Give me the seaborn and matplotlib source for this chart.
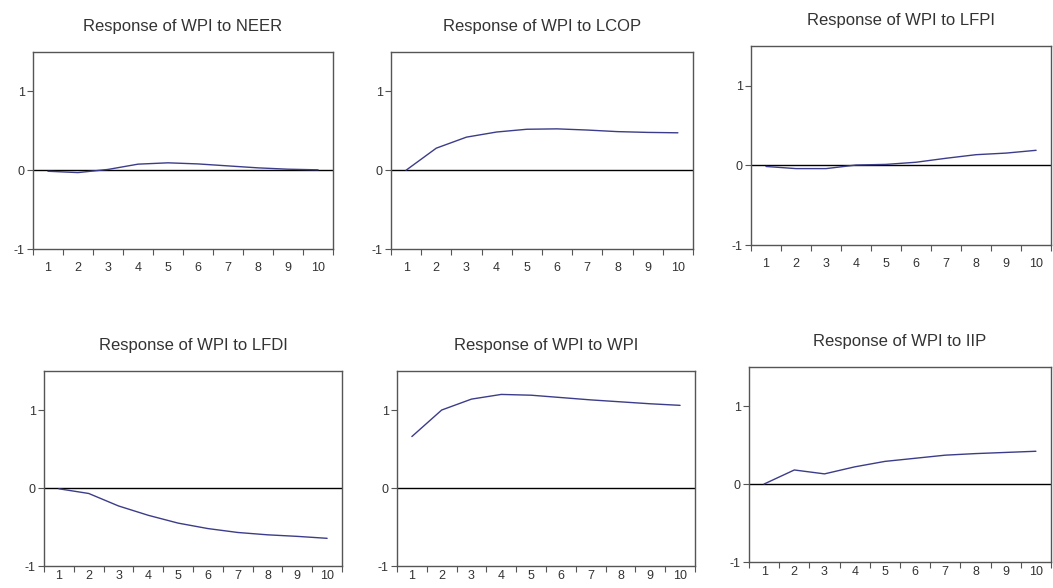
import numpy as np
import pandas as pd
import matplotlib
matplotlib.use("Agg")
import matplotlib.pyplot as plt
import seaborn as sns

periods = [1, 2, 3, 4, 5, 6, 7, 8, 9, 10]
titles = ["Response of WPI to NEER", "Response of WPI to LCOP", "Response of WPI to LFPI",
          "Response of WPI to LFDI", "Response of WPI to WPI", "Response of WPI to IIP"]
neer = [-0.013, -0.03, 0.01, 0.077, 0.094, 0.08, 0.055, 0.03, 0.013, 0.005]
lcop = [0.0, 0.28, 0.42, 0.485, 0.52, 0.525, 0.51, 0.49, 0.48, 0.475]
lfpi = [-0.013, -0.04, -0.04, 0.005, 0.013, 0.04, 0.09, 0.135, 0.155, 0.19]
lfdi = [-0.01, -0.07, -0.23, -0.35, -0.45, -0.52, -0.57, -0.60, -0.62, -0.645]
wpi = [0.66, 1.0, 1.14, 1.2, 1.19, 1.16, 1.13, 1.105, 1.08, 1.06]
iip = [0.0, 0.18, 0.13, 0.22, 0.29, 0.33, 0.37, 0.39, 0.405, 0.42]
series = [neer, lcop, lfpi, lfdi, wpi, iip]
ytick_vals = [-1, 0, 1]

sns.set_theme(style="white")
plt.rcParams['font.family'] = ['Liberation Sans', 'DejaVu Sans']

fig = plt.figure(figsize=(10.53, 5.88), dpi=100)
rects = [
    [0.0313, 0.5765, 0.285, 0.335],
    [0.3713, 0.5765, 0.2868, 0.335],
    [0.7132, 0.5833, 0.285, 0.3384],
    [0.0418, 0.0374, 0.283, 0.3316],
    [0.377, 0.0374, 0.283, 0.3316],
    [0.7113, 0.0442, 0.2868, 0.3316],
]
xpads = [9, 9, 9, 3, 3, 3]
text_col = "#333333"
for rect, title, vals, xpad in zip(rects, titles, series, xpads):
    ax = fig.add_axes(rect)
    df = pd.DataFrame({"period": periods, "response": vals})
    sns.lineplot(data=df, x="period", y="response", ax=ax, color="#3c3c8a", linewidth=1.0)
    ax.axhline(0, color="black", linewidth=1.0, zorder=1)
    ax.set_xlim(0.5, 10.5)
    ax.set_ylim(-1, 1.5)
    ax.set_xticks([p - 0.5 for p in periods] + [periods[-1] + 0.5])
    ax.set_xticklabels([])
    ax.set_xticks(periods, minor=True)
    ax.set_xticklabels([str(p) for p in periods], minor=True, fontsize=9, color=text_col)
    ax.set_yticks(ytick_vals)
    ax.set_yticklabels([str(v) for v in ytick_vals], fontsize=9, color=text_col)
    ax.tick_params(axis="x", which="major", direction="out", length=4, width=0.8, color="#555555", bottom=True)
    ax.tick_params(axis="x", which="minor", length=0, pad=xpad, bottom=True)
    ax.tick_params(axis="y", direction="out", length=4, width=0.8, color="#555555", left=True, pad=2)
    ax.set_xlabel("")
    ax.set_ylabel("")
    for sp in ax.spines.values():
        sp.set_color("#555555")
        sp.set_linewidth(1.0)
    ax.set_title(title, fontsize=12, color=text_col, pad=15)

fig.savefig("out.png", dpi=100)
